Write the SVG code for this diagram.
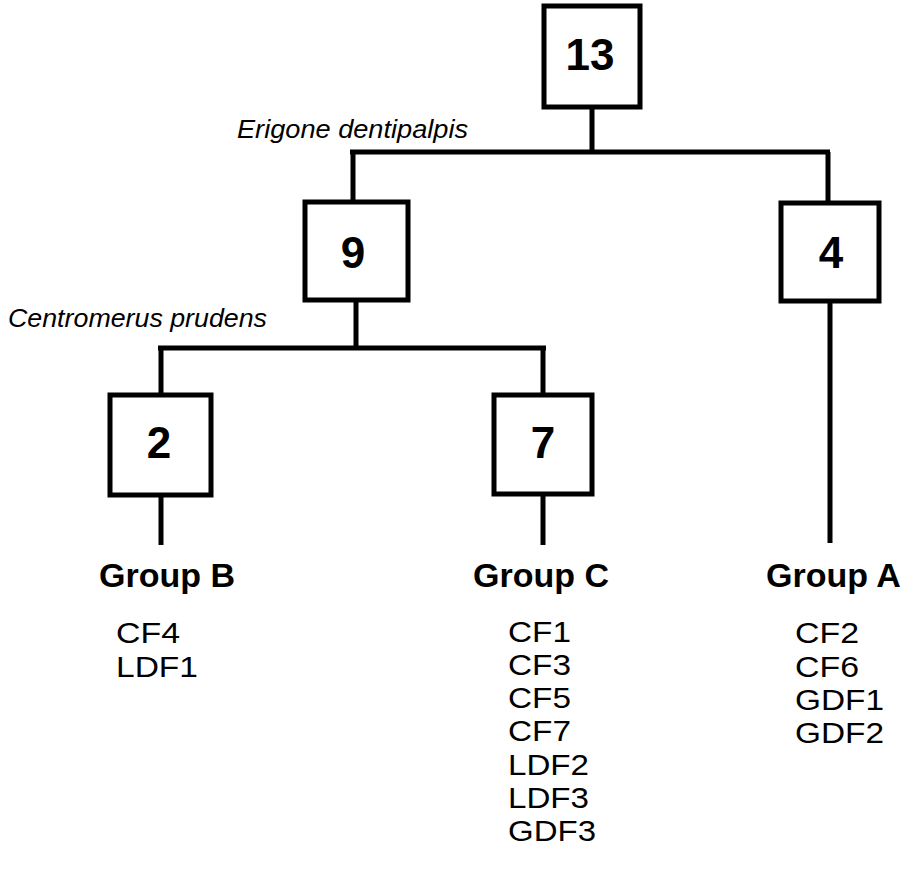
<svg xmlns="http://www.w3.org/2000/svg" width="907" height="887" viewBox="0 0 907 887">
<style>
.box{fill:#fff;stroke:#000;stroke-width:5}
.ln{fill:none;stroke:#000;stroke-width:5;stroke-linecap:butt}
.num{font-family:"Liberation Sans",Arial,sans-serif;font-weight:bold;font-size:44px;text-anchor:middle}
.sp{font-family:"Liberation Sans",Arial,sans-serif;font-style:italic;font-size:26px}
.grp{font-family:"Liberation Sans",Arial,sans-serif;font-weight:bold;font-size:34px}
.it{font-family:"Liberation Sans",Arial,sans-serif;font-size:29px}
</style>
<rect width="907" height="887" fill="#fff"/>
<g id="connectors">
<path class="ln" d="M592 108V152M350 152H830M353 152V202M828 152V202"/>
<path class="ln" d="M356 301V348M158 348H546M161 348V394M543 348V394"/>
<path class="ln" d="M161 496V545M543 495V545M830 302V543"/>
</g>
<text class="sp" x="237" y="138" textLength="231" lengthAdjust="spacingAndGlyphs">Erigone dentipalpis</text>
<text class="sp" x="8" y="327" textLength="259" lengthAdjust="spacingAndGlyphs">Centromerus prudens</text>
<g id="n13"><rect class="box" x="544" y="6" width="96" height="101"/><text class="num" x="590" y="70">13</text></g>
<g id="n9"><rect class="box" x="305" y="202" width="103" height="98"/><text class="num" x="353" y="268">9</text></g>
<g id="n4"><rect class="box" x="781" y="203" width="98" height="98"/><text class="num" x="831" y="268">4</text></g>
<g id="n2"><rect class="box" x="110" y="395" width="101" height="100"/><text class="num" x="159" y="458">2</text></g>
<g id="n7"><rect class="box" x="494" y="395" width="98" height="99"/><text class="num" x="543" y="458">7</text></g>
<g id="groupB"><text class="grp" x="99" y="587">Group B</text>
<text class="it" x="116" y="643" textLength="64" lengthAdjust="spacingAndGlyphs">CF4</text><text class="it" x="116" y="677" textLength="82" lengthAdjust="spacingAndGlyphs">LDF1</text></g>
<g id="groupC"><text class="grp" x="473" y="587">Group C</text>
<text class="it" x="508" y="642" textLength="63" lengthAdjust="spacingAndGlyphs">CF1</text><text class="it" x="508" y="675" textLength="63" lengthAdjust="spacingAndGlyphs">CF3</text><text class="it" x="508" y="708" textLength="63" lengthAdjust="spacingAndGlyphs">CF5</text><text class="it" x="508" y="741" textLength="63" lengthAdjust="spacingAndGlyphs">CF7</text><text class="it" x="508" y="775" textLength="81" lengthAdjust="spacingAndGlyphs">LDF2</text><text class="it" x="508" y="808" textLength="81" lengthAdjust="spacingAndGlyphs">LDF3</text><text class="it" x="508" y="841" textLength="88" lengthAdjust="spacingAndGlyphs">GDF3</text></g>
<g id="groupA"><text class="grp" x="766" y="587">Group A</text>
<text class="it" x="795" y="643" textLength="64" lengthAdjust="spacingAndGlyphs">CF2</text><text class="it" x="795" y="677" textLength="64" lengthAdjust="spacingAndGlyphs">CF6</text><text class="it" x="795" y="710" textLength="89" lengthAdjust="spacingAndGlyphs">GDF1</text><text class="it" x="795" y="743" textLength="89" lengthAdjust="spacingAndGlyphs">GDF2</text></g>
</svg>
